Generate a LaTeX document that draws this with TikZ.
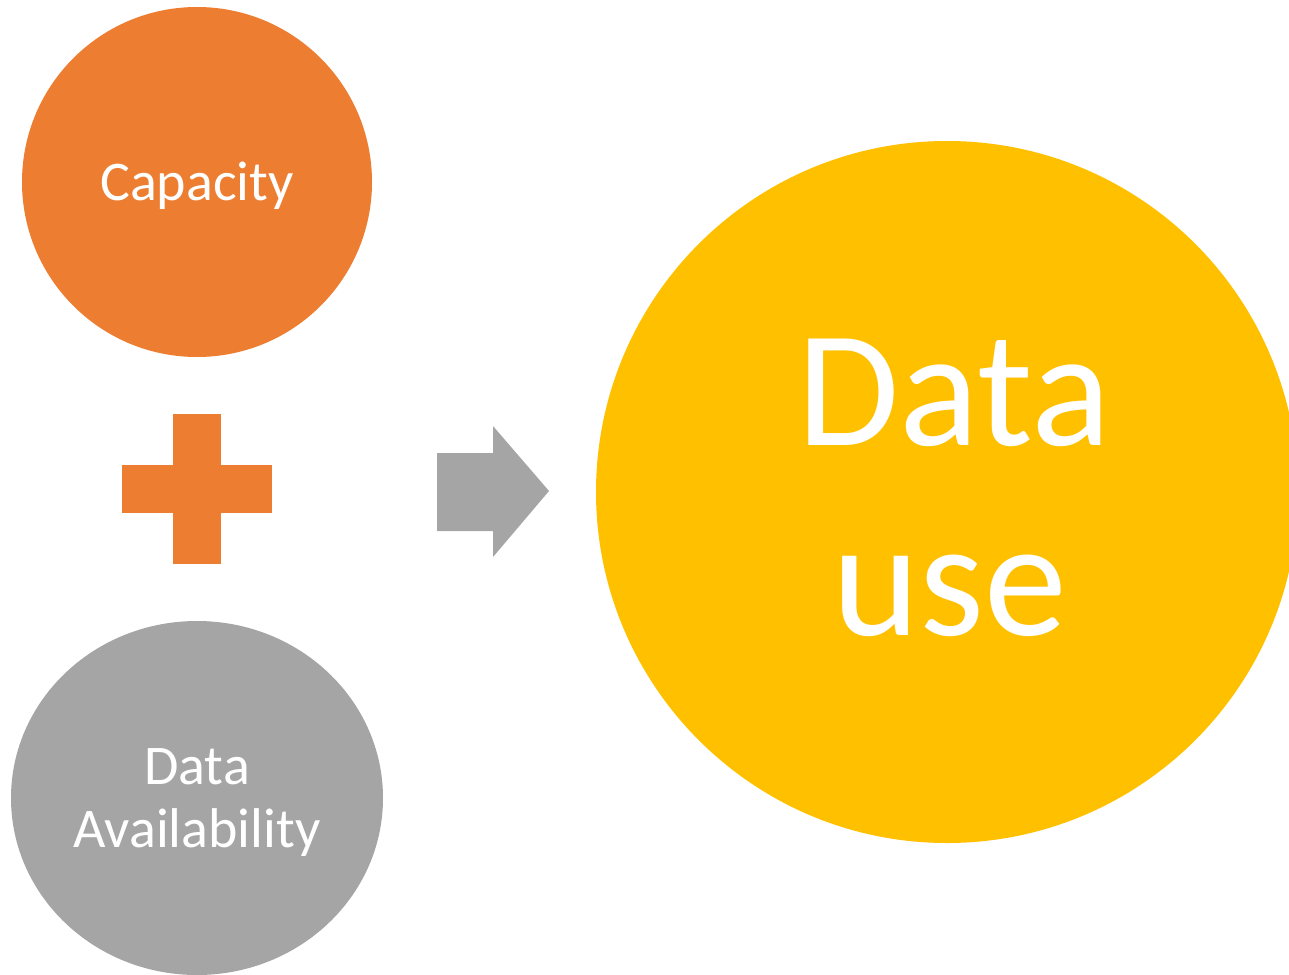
\documentclass[tikz,border=0pt]{standalone}
\usepackage{fontspec}
\setmainfont{Carlito}
\usetikzlibrary{shapes.geometric}
\definecolor{capacityorange}{HTML}{ED7D31}
\definecolor{availgray}{HTML}{A5A5A5}
\definecolor{useyellow}{HTML}{FFC000}

\begin{document}
\begin{tikzpicture}[x=1pt,y=-1pt,
  blob/.style={ellipse, inner sep=0pt},
  word/.style={anchor=base, text=white, inner sep=0pt},
  small/.style={word, font=\fontsize{56}{67}\selectfont},
  big/.style={word, font=\fontsize{166}{190}\selectfont}]
  \useasboundingbox (0,0) rectangle (1289,974);
  % circles
  \node[blob, fill=capacityorange, minimum width=350pt, minimum height=350pt] (capacity) at (197,182) {};
  \node[blob, fill=availgray, minimum width=372pt, minimum height=354pt] (avail) at (197,798) {};
  \node[blob, fill=useyellow, minimum width=702pt, minimum height=702pt] (datause) at (947,492) {};
  % plus and arrow
  \fill[capacityorange] (173,414) rectangle (221,564);
  \fill[capacityorange] (122,465) rectangle (272,513);
  \fill[availgray] (437,453) -- (493,453) -- (493,426) -- (549,491)
    -- (493,557) -- (493,531) -- (437,531) -- cycle;
  % texts
  \node[small] (capacitytext) at (197,200) {Capacity};
  \node[small] (availtop) at (197,784) {Data};
  \node[small] (availbot) at (197,847) {Availability};
  \node[big] (usetop) at (954,445) {Data};
  \node[big] (usebot) at (950,635) {use};
\end{tikzpicture}
\end{document}
